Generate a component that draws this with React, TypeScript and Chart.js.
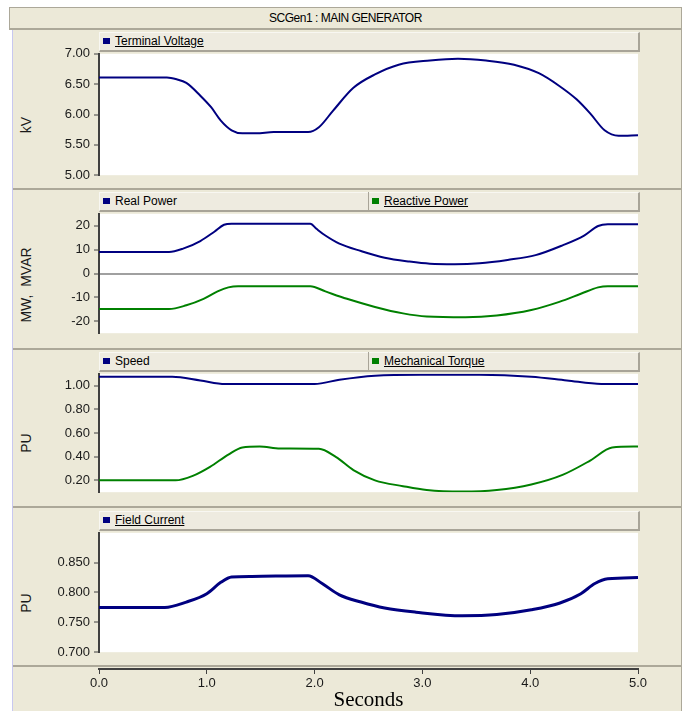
import React, { useEffect, useRef } from 'react';
import Chart from 'chart.js/auto';

// ---------- data (time in seconds) ----------
const timeVoltage = [0, 0.63, 0.72, 0.81, 0.94, 1.04, 1.13, 1.23, 1.33, 1.46, 1.62, 1.78, 1.94, 2.04, 2.17, 2.36, 2.56, 2.78, 3.07, 3.33, 3.59, 3.85, 4.08, 4.27, 4.43, 4.56, 4.69, 4.82, 5.0];
const terminalVoltage = [6.61, 6.61, 6.58, 6.52, 6.31, 6.12, 5.9, 5.74, 5.69, 5.69, 5.71, 5.71, 5.71, 5.79, 6.06, 6.44, 6.66, 6.82, 6.89, 6.92, 6.89, 6.82, 6.68, 6.47, 6.25, 6.01, 5.74, 5.65, 5.66];

const timeRealPower = [0, 0.65, 0.78, 0.94, 1.07, 1.16, 1.23, 1.96, 2.02, 2.1, 2.23, 2.43, 2.65, 2.88, 3.07, 3.3, 3.53, 3.79, 4.05, 4.3, 4.5, 4.63, 4.72, 5.0];
const realPower = [9.0, 9.0, 10.4, 13.6, 17.5, 20.4, 20.8, 20.8, 18.6, 15.9, 12.5, 9.4, 6.6, 5.0, 4.1, 3.9, 4.3, 5.7, 7.7, 11.8, 15.9, 19.9, 20.6, 20.6];

const timeReactivePower = [0, 0.65, 0.81, 0.97, 1.1, 1.2, 1.29, 1.96, 2.1, 2.3, 2.56, 2.82, 3.04, 3.4, 3.69, 4.01, 4.27, 4.47, 4.63, 4.72, 5.0];
const reactivePower = [-14.9, -14.9, -13.3, -10.6, -7.5, -5.8, -5.3, -5.3, -7.5, -10.6, -14.0, -16.7, -18.0, -18.3, -17.6, -15.3, -11.9, -8.5, -5.8, -5.3, -5.3];

const timeSpeed = [0, 0.68, 0.94, 1.17, 2.0, 2.23, 2.56, 2.98, 3.53, 4.01, 4.34, 4.66, 5.0];
const speed = [1.075, 1.075, 1.044, 1.014, 1.014, 1.05, 1.084, 1.093, 1.093, 1.076, 1.044, 1.014, 1.014];

const timeTorque = [0, 0.71, 0.87, 1.03, 1.2, 1.33, 1.49, 1.68, 2.04, 2.2, 2.36, 2.56, 2.82, 3.04, 3.37, 3.69, 4.01, 4.3, 4.56, 4.76, 5.0];
const mechanicalTorque = [0.2, 0.2, 0.238, 0.314, 0.418, 0.478, 0.486, 0.469, 0.467, 0.396, 0.287, 0.2, 0.151, 0.118, 0.105, 0.118, 0.165, 0.246, 0.369, 0.478, 0.486];

const timeField = [0, 0.61, 0.81, 1.0, 1.13, 1.23, 1.42, 1.94, 2.07, 2.23, 2.43, 2.65, 2.94, 3.37, 3.69, 4.01, 4.27, 4.47, 4.6, 4.72, 5.0];
const fieldCurrent = [0.775, 0.775, 0.784, 0.798, 0.817, 0.826, 0.827, 0.828, 0.815, 0.796, 0.784, 0.774, 0.767, 0.761, 0.763, 0.771, 0.782, 0.798, 0.815, 0.823, 0.825];

const voltageTicks = [5.0, 5.5, 6.0, 6.5, 7.0];
const powerTicks = [-20, -10, 0, 10, 20];
const puTicks = [0.2, 0.4, 0.6, 0.8, 1.0];
const fieldTicks = [0.7, 0.75, 0.8, 0.85];
const timeTicks = [0, 1, 2, 3, 4, 5];

// ---------- style ----------
const BEIGE = '#ECE9D8';
const LINE = '#ACA899';
const NAVY = '#000080';
const GREEN = '#008000';
const AXIS = '#404040';
const FONT = "'Liberation Sans', Arial, sans-serif";
const CANVAS_LEFT = 13;
const CANVAS_W = 668;
const AXIS_W = 86; // plot left at 99
const RIGHT_PAD = 43; // plot right at 638

const whitePlot = {
  id: 'whitePlot',
  beforeDraw(chart: any) {
    const { ctx, chartArea: a } = chart;
    ctx.save();
    ctx.fillStyle = '#ffffff';
    ctx.fillRect(a.left, a.top, a.right - a.left, a.bottom - a.top);
    ctx.restore();
  },
};

type Series = { label: string; t: number[]; v: number[]; color: string; width: number };

function pts(t: number[], v: number[]) {
  return t.map((x, i) => ({ x, y: v[i] }));
}

function PanelChart(props: {
  top: number;
  bottom: number;
  min: number;
  max: number;
  ticks: number[];
  decimals: number;
  zeroLine?: boolean;
  series: Series[];
}) {
  const ref = useRef<HTMLCanvasElement>(null);
  const { top, bottom, min, max, ticks, decimals, zeroLine, series } = props;
  useEffect(() => {
    const chart = new Chart(ref.current as HTMLCanvasElement, {
      type: 'line',
      data: {
        datasets: series.map((s) => ({
          label: s.label,
          data: pts(s.t, s.v),
          borderColor: s.color,
          backgroundColor: s.color,
          borderWidth: s.width,
          pointRadius: 0,
          fill: false,
          cubicInterpolationMode: 'monotone',
        })),
      },
      options: {
        responsive: false,
        animation: false,
        events: [],
        layout: { padding: { top: 10, bottom: 10, left: 0, right: RIGHT_PAD } },
        plugins: { legend: { display: false }, tooltip: { enabled: false } },
        scales: {
          x: { type: 'linear', min: 0, max: 5, display: false },
          y: {
            type: 'linear',
            min,
            max,
            afterBuildTicks: (axis: any) => {
              axis.ticks = ticks.map((value) => ({ value }));
            },
            afterFit: (axis: any) => {
              axis.width = AXIS_W;
            },
            border: { color: AXIS, width: 2 },
            grid: {
              drawOnChartArea: !!zeroLine,
              color: (ctx: any) =>
                zeroLine && ctx.tick && ctx.tick.value === 0 ? '#A0A0A0' : 'rgba(0,0,0,0)',
              lineWidth: 2,
              tickColor: AXIS,
              tickLength: 5,
              tickWidth: 1,
            },
            ticks: {
              color: '#1a1a1a',
              padding: 4,
              font: { family: FONT, size: 13 },
              callback: (v: any) => Number(v).toFixed(decimals),
            },
          },
        },
      },
      plugins: [whitePlot],
    } as any);
    return () => chart.destroy();
  }, []);
  return (
    <canvas
      ref={ref}
      width={CANVAS_W}
      height={bottom - top + 20}
      style={{ position: 'absolute', left: CANVAS_LEFT, top: top - 10, display: 'block' }}
    />
  );
}

function TimeAxis() {
  const ref = useRef<HTMLCanvasElement>(null);
  useEffect(() => {
    const chart = new Chart(ref.current as HTMLCanvasElement, {
      type: 'line',
      data: { datasets: [] },
      options: {
        responsive: false,
        animation: false,
        events: [],
        layout: { padding: { top: 0, bottom: 0, left: AXIS_W, right: RIGHT_PAD } },
        plugins: { legend: { display: false }, tooltip: { enabled: false } },
        scales: {
          x: {
            type: 'linear',
            position: 'bottom',
            min: 0,
            max: 5,
            afterBuildTicks: (axis: any) => {
              axis.ticks = timeTicks.map((value) => ({ value }));
            },
            afterFit: (axis: any) => {
              axis.height = 42;
            },
            border: { color: AXIS, width: 2 },
            grid: { drawOnChartArea: false, tickColor: AXIS, tickLength: 5, tickWidth: 1 },
            ticks: {
              color: '#1a1a1a',
              padding: 2,
              maxRotation: 0,
              font: { family: FONT, size: 13 },
              callback: (v: any) => Number(v).toFixed(1),
            },
            title: {
              display: true,
              text: 'Seconds',
              color: '#000',
              padding: { top: 0, bottom: 0 },
              font: { family: "'Liberation Serif', 'Times New Roman', serif", size: 21, lineHeight: 1 },
            },
          },
          y: { display: false, min: 0, max: 1 },
        },
      },
    } as any);
    return () => chart.destroy();
  }, []);
  return (
    <canvas
      ref={ref}
      width={CANVAS_W}
      height={51}
      style={{ position: 'absolute', left: CANVAS_LEFT, top: 660, display: 'block' }}
    />
  );
}

function LegendItem(props: { x: number; top: number; label: string; color: string; underline: boolean }) {
  const { x, top, label, color, underline } = props;
  return (
    <>
      <div style={{ position: 'absolute', left: x + 4, top: top + 6, width: 7, height: 6, background: color }} />
      <div
        style={{
          position: 'absolute',
          left: x + 16,
          top: top + 1,
          height: 16,
          lineHeight: '16px',
          fontFamily: FONT,
          fontSize: 12,
          color: '#000',
          whiteSpace: 'nowrap',
          textDecoration: underline ? 'underline' : 'none',
        }}
      >
        {label}
      </div>
    </>
  );
}

function LegendBar(props: { plotTop: number; items: { label: string; color: string; underline: boolean }[] }) {
  const top = props.plotTop - 20;
  return (
    <>
      <div
        style={{
          position: 'absolute',
          left: 99,
          top,
          width: 541,
          height: 20,
          boxSizing: 'border-box',
          background: '#EEEBE0',
          borderTop: '1px solid #F8F7F2',
          borderLeft: '1px solid #F8F7F2',
          borderRight: '2px solid #A8A498',
          borderBottom: '2px solid #A8A498',
        }}
      />
      {props.items.length > 1 && (
        <div style={{ position: 'absolute', left: 368, top, width: 1, height: 18, background: '#A8A498' }} />
      )}
      {props.items.map((it, i) => (
        <LegendItem key={i} x={i === 0 ? 99 : 368} top={top} label={it.label} color={it.color} underline={it.underline} />
      ))}
    </>
  );
}

function YTitle(props: { text: string; cy: number }) {
  return (
    <div
      style={{
        position: 'absolute',
        left: 26,
        top: props.cy,
        transform: 'translate(-50%, -50%) rotate(-90deg)',
        fontFamily: FONT,
        fontSize: 14,
        color: '#1a1a1a',
        whiteSpace: 'pre',
      }}
    >
      {props.text}
    </div>
  );
}

export default function App() {
  return (
    <div
      style={{
        position: 'absolute',
        left: 0,
        top: 0,
        width: 686,
        height: 711,
        background: '#ffffff',
        overflow: 'hidden',
      }}
    >
      {/* title bar */}
      <div
        style={{
          position: 'absolute',
          left: 9,
          top: 7,
          width: 673,
          height: 23,
          boxSizing: 'border-box',
          background: BEIGE,
          borderTop: `1px solid ${LINE}`,
          borderLeft: `1px solid ${LINE}`,
          borderRight: `1px solid ${LINE}`,
          borderBottom: `2px solid ${LINE}`,
          textAlign: 'center',
          fontFamily: FONT,
          fontSize: 12,
          letterSpacing: '-0.5px',
          lineHeight: '20px',
          color: '#000',
        }}
      >
        SCGen1 : MAIN GENERATOR
      </div>
      {/* panels background */}
      <div
        style={{
          position: 'absolute',
          left: 12,
          top: 30,
          width: 670,
          height: 681,
          boxSizing: 'border-box',
          background: BEIGE,
          borderLeft: '1px solid #C8C8F0',
          borderRight: `1px solid ${LINE}`,
        }}
      />
      {[188, 348, 506, 665].map((y) => (
        <div key={y} style={{ position: 'absolute', left: 13, top: y, width: 668, height: 2, background: LINE }} />
      ))}

      <LegendBar plotTop={52} items={[{ label: 'Terminal Voltage', color: NAVY, underline: true }]} />
      <LegendBar
        plotTop={212}
        items={[
          { label: 'Real Power', color: NAVY, underline: false },
          { label: 'Reactive Power', color: GREEN, underline: true },
        ]}
      />
      <LegendBar
        plotTop={372}
        items={[
          { label: 'Speed', color: NAVY, underline: false },
          { label: 'Mechanical Torque', color: GREEN, underline: true },
        ]}
      />
      <LegendBar plotTop={531} items={[{ label: 'Field Current', color: NAVY, underline: true }]} />

      <YTitle text="kV" cy={125} />
      <YTitle text="MW,  MVAR" cy={285} />
      <YTitle text="PU" cy={443} />
      <YTitle text="PU" cy={603} />

      <PanelChart
        top={52}
        bottom={177}
        min={5}
        max={7}
        ticks={voltageTicks}
        decimals={2}
        series={[{ label: 'Terminal Voltage', t: timeVoltage, v: terminalVoltage, color: NAVY, width: 2 }]}
      />
      <PanelChart
        top={212}
        bottom={335}
        min={-25}
        max={25}
        ticks={powerTicks}
        decimals={0}
        zeroLine
        series={[
          { label: 'Real Power', t: timeRealPower, v: realPower, color: NAVY, width: 2 },
          { label: 'Reactive Power', t: timeReactivePower, v: reactivePower, color: GREEN, width: 2 },
        ]}
      />
      <PanelChart
        top={372}
        bottom={494}
        min={0.1}
        max={1.1}
        ticks={puTicks}
        decimals={2}
        series={[
          { label: 'Speed', t: timeSpeed, v: speed, color: NAVY, width: 2 },
          { label: 'Mechanical Torque', t: timeTorque, v: mechanicalTorque, color: GREEN, width: 2 },
        ]}
      />
      <PanelChart
        top={531}
        bottom={654}
        min={0.7}
        max={0.9}
        ticks={fieldTicks}
        decimals={3}
        series={[{ label: 'Field Current', t: timeField, v: fieldCurrent, color: NAVY, width: 3 }]}
      />
      <TimeAxis />
    </div>
  );
}
